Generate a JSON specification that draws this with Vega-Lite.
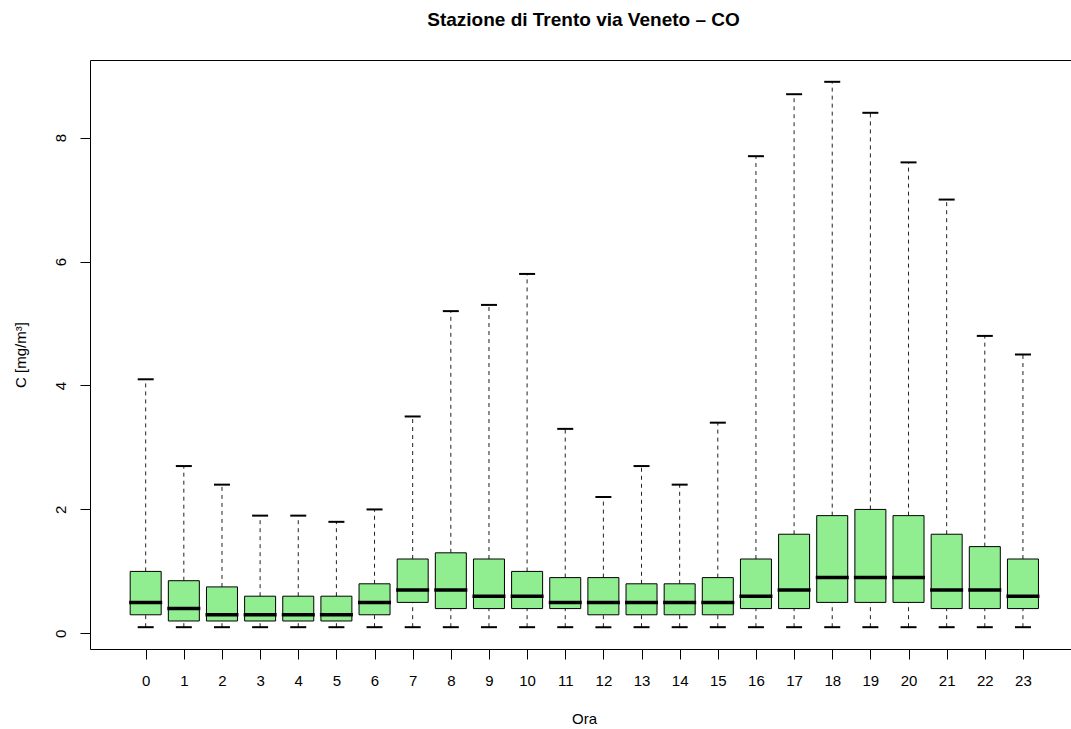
{
  "$schema": "https://vega.github.io/schema/vega-lite/v6.json",
  "width": 981,
  "height": 589,
  "autosize": {"type": "none"},
  "padding": {"left": 90, "top": 60, "right": 0, "bottom": 80},
  "background": "white",
  "title": {"text": "Stazione di Trento via Veneto – CO", "font": "Liberation Sans", "fontSize": 19, "fontWeight": "bold", "color": "black", "anchor": "middle", "offset": 30, "dx": 3},
  "config": {
    "view": {"stroke": "black", "strokeWidth": 1},
    "axis": {"labelFont": "Liberation Sans", "titleFont": "Liberation Sans", "labelFontSize": 15, "titleFontSize": 15, "titleFontWeight": "normal", "labelColor": "black", "titleColor": "black", "tickColor": "black", "tickSize": 10, "grid": false, "domain": false}
  },
  "data": {"values": [
    {"hour": 0, "lower": 0.1, "q1": 0.3, "median": 0.5, "q3": 1.0, "upper": 4.1},
    {"hour": 1, "lower": 0.1, "q1": 0.2, "median": 0.4, "q3": 0.85, "upper": 2.7},
    {"hour": 2, "lower": 0.1, "q1": 0.2, "median": 0.3, "q3": 0.75, "upper": 2.4},
    {"hour": 3, "lower": 0.1, "q1": 0.2, "median": 0.3, "q3": 0.6, "upper": 1.9},
    {"hour": 4, "lower": 0.1, "q1": 0.2, "median": 0.3, "q3": 0.6, "upper": 1.9},
    {"hour": 5, "lower": 0.1, "q1": 0.2, "median": 0.3, "q3": 0.6, "upper": 1.8},
    {"hour": 6, "lower": 0.1, "q1": 0.3, "median": 0.5, "q3": 0.8, "upper": 2.0},
    {"hour": 7, "lower": 0.1, "q1": 0.5, "median": 0.7, "q3": 1.2, "upper": 3.5},
    {"hour": 8, "lower": 0.1, "q1": 0.4, "median": 0.7, "q3": 1.3, "upper": 5.2},
    {"hour": 9, "lower": 0.1, "q1": 0.4, "median": 0.6, "q3": 1.2, "upper": 5.3},
    {"hour": 10, "lower": 0.1, "q1": 0.4, "median": 0.6, "q3": 1.0, "upper": 5.8},
    {"hour": 11, "lower": 0.1, "q1": 0.4, "median": 0.5, "q3": 0.9, "upper": 3.3},
    {"hour": 12, "lower": 0.1, "q1": 0.3, "median": 0.5, "q3": 0.9, "upper": 2.2},
    {"hour": 13, "lower": 0.1, "q1": 0.3, "median": 0.5, "q3": 0.8, "upper": 2.7},
    {"hour": 14, "lower": 0.1, "q1": 0.3, "median": 0.5, "q3": 0.8, "upper": 2.4},
    {"hour": 15, "lower": 0.1, "q1": 0.3, "median": 0.5, "q3": 0.9, "upper": 3.4},
    {"hour": 16, "lower": 0.1, "q1": 0.4, "median": 0.6, "q3": 1.2, "upper": 7.7},
    {"hour": 17, "lower": 0.1, "q1": 0.4, "median": 0.7, "q3": 1.6, "upper": 8.7},
    {"hour": 18, "lower": 0.1, "q1": 0.5, "median": 0.9, "q3": 1.9, "upper": 8.9},
    {"hour": 19, "lower": 0.1, "q1": 0.5, "median": 0.9, "q3": 2.0, "upper": 8.4},
    {"hour": 20, "lower": 0.1, "q1": 0.5, "median": 0.9, "q3": 1.9, "upper": 7.6},
    {"hour": 21, "lower": 0.1, "q1": 0.4, "median": 0.7, "q3": 1.6, "upper": 7.0},
    {"hour": 22, "lower": 0.1, "q1": 0.4, "median": 0.7, "q3": 1.4, "upper": 4.8},
    {"hour": 23, "lower": 0.1, "q1": 0.4, "median": 0.6, "q3": 1.2, "upper": 4.5}
  ]},
  "encoding": {
    "x": {"field": "hour", "type": "quantitative", "scale": {"domain": [-1.46, 24.26], "nice": false, "zero": false, "padding": 0},
      "axis": {"title": "Ora", "values": [0,1,2,3,4,5,6,7,8,9,10,11,12,13,14,15,16,17,18,19,20,21,22,23], "format": "d", "labelBaseline": "alphabetic", "labelPadding": 26, "labelFlush": false, "labelOverlap": false, "titleX": 494, "titleY": 69, "titleBaseline": "middle", "titleAlign": "center"}}
  },
  "layer": [
    {
      "mark": {"type": "rule", "color": "#222", "strokeWidth": 1, "strokeDash": [4, 4]},
      "encoding": {
        "y": {"field": "q3", "type": "quantitative", "scale": {"domain": [-0.252, 9.252], "nice": false, "zero": false, "padding": 0},
          "axis": {"title": "C [mg/m³]", "values": [0, 2, 4, 6, 8], "format": "d", "labelAngle": -90, "labelAlign": "center", "labelBaseline": "alphabetic", "labelPadding": 15, "titleAngle": -90, "titleX": -70, "titleY": 294.5, "titleBaseline": "middle", "titleAlign": "center"}},
        "y2": {"field": "upper"}
      }
    },
    {
      "mark": {"type": "rule", "color": "#222", "strokeWidth": 1, "strokeDash": [4, 4]},
      "encoding": {
        "y": {"field": "lower", "type": "quantitative"},
        "y2": {"field": "q1"}
      }
    },
    {
      "mark": {"type": "tick", "orient": "horizontal", "color": "black", "size": 16, "thickness": 2, "opacity": 1},
      "encoding": {"y": {"field": "upper", "type": "quantitative"}}
    },
    {
      "mark": {"type": "tick", "orient": "horizontal", "color": "black", "size": 16, "thickness": 2, "opacity": 1},
      "encoding": {"y": {"field": "lower", "type": "quantitative"}}
    },
    {
      "mark": {"type": "bar", "size": 31, "fill": "#90EE90", "stroke": "black", "strokeWidth": 1},
      "encoding": {
        "y": {"field": "q1", "type": "quantitative"},
        "y2": {"field": "q3"}
      }
    },
    {
      "mark": {"type": "tick", "orient": "horizontal", "color": "black", "size": 33, "thickness": 3.5, "opacity": 1},
      "encoding": {"y": {"field": "median", "type": "quantitative"}}
    }
  ]
}
